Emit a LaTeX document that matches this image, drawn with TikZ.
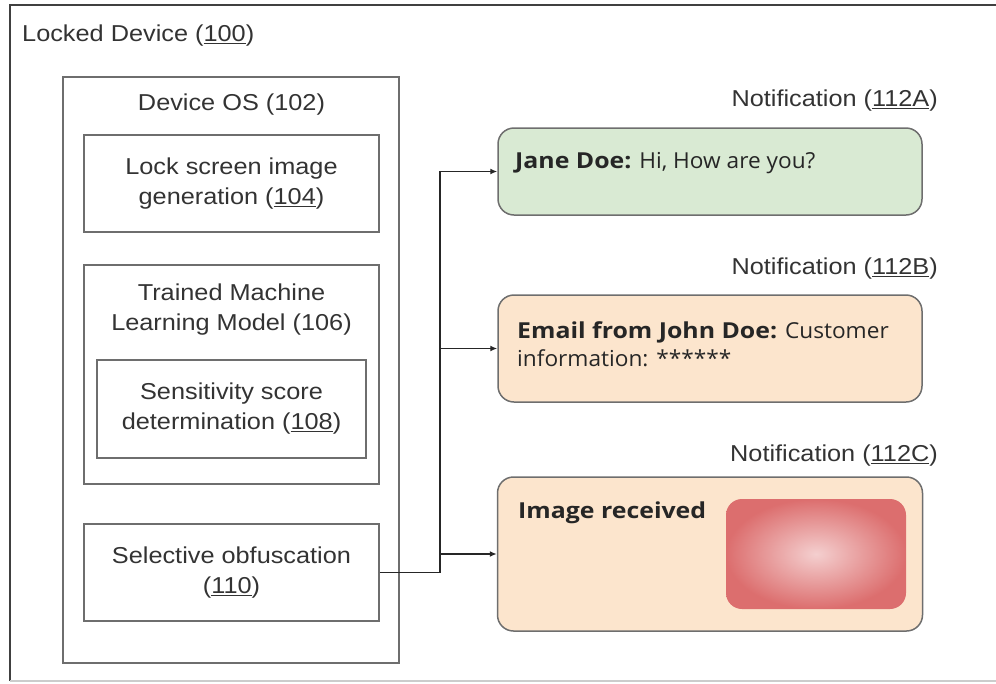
\documentclass[tikz,border=0pt]{standalone}
\usepackage{fontspec}
\setmainfont{Liberation Sans}[FakeStretch=1.1]
\newfontfamily\nfont{Open Sans}[FakeStretch=1.03, BoldFeatures={FakeStretch=1.13}]
\usetikzlibrary{arrows.meta,calc}
\definecolor{txt}{HTML}{333333}
\definecolor{boxline}{HTML}{6E6E6E}
\definecolor{greenfill}{HTML}{D9EAD3}
\definecolor{peachfill}{HTML}{FCE5CD}
\definecolor{redout}{HTML}{DC6E6E}
\definecolor{redin}{HTML}{F4CFCF}
\tikzset{
  x=1pt, y=-1pt,
  lbl/.style={text=txt, font=\fontsize{23}{30}\selectfont, align=center, inner sep=0pt},
  graybox/.style={draw=boxline, line width=1.5pt, inner sep=0pt},
  notif/.style={draw=boxline, line width=1.5pt, rounded corners=16pt, inner sep=0pt},
  ntext/.style={text=black!85, font=\nfont\fontsize{22}{28}\selectfont, align=left, inner sep=0pt, anchor=west},
  conn/.style={draw=black!85, line width=1.5pt},
  arr/.style={conn, -{Latex[length=7pt,width=6pt]}},
}
\begin{document}
\begin{tikzpicture}
\useasboundingbox (0,0) rectangle (996,683);
% outer frame
\draw[line width=2pt, draw=black!75] (10,681) -- (10,5) -- (1000,5);
\draw[line width=1.5pt, draw=black!20] (10,681) -- (1000,681);
\node[lbl, anchor=west] (title) at (22,36) {Locked Device (\underline{100})};

% Device OS
\node[graybox, minimum width=336pt, minimum height=586pt] (os) at (231,370) {};
\node[lbl] (ostitle) at (231.5,105) {Device OS (102)};

\node[graybox, minimum width=295pt, minimum height=97pt, lbl] (lock) at (231.5,183.5) {Lock screen image\\generation (\underline{104})};

\node[graybox, minimum width=295pt, minimum height=219pt] (ml) at (231.5,374.5) {};
\node[lbl] (mltitle) at (231.5,310) {Trained Machine\\Learning Model (106)};

\node[graybox, minimum width=269pt, minimum height=98pt, lbl] (sens) at (231.5,409) {Sensitivity score\\determination (\underline{108})};

\node[graybox, minimum width=295pt, minimum height=97pt, lbl] (sel) at (231.5,572.5) {Selective obfuscation\\(\underline{110})};

% Notifications
\node[notif, fill=greenfill, minimum width=424pt, minimum height=87pt] (na) at (710,171.5) {};
\node[ntext] (ta) at (515,163) {\textbf{Jane Doe:} Hi, How are you?};
\node[lbl, anchor=east] (la) at (938,101) {Notification (\underline{112A})};

\node[notif, fill=peachfill, minimum width=424pt, minimum height=107pt] (nb) at (710,348.5) {};
\node[ntext] (tb) at (517,344) {\textbf{Email from John Doe:} Customer\\information: ******};
\node[lbl, anchor=east] (lb) at (938,269) {Notification (\underline{112B})};

\node[notif, fill=peachfill, minimum width=425pt, minimum height=154pt] (nc) at (710,554) {};
\node[ntext] (tc) at (518,513) {\textbf{Image received}};
\node[lbl, anchor=east] (lc) at (938,456) {Notification (\underline{112C})};
\shade[inner color=redin, outer color=redout, rounded corners=16pt] (726,499) rectangle (906,609);

% connectors
\coordinate (j) at (440,572.5);
\draw[conn] (sel.east) -- (j);
\draw[arr] (j) |- (na.west);
\draw[arr] (j) |- (nb.west);
\draw[arr] (j) |- (nc.west);
\end{tikzpicture}
\end{document}
